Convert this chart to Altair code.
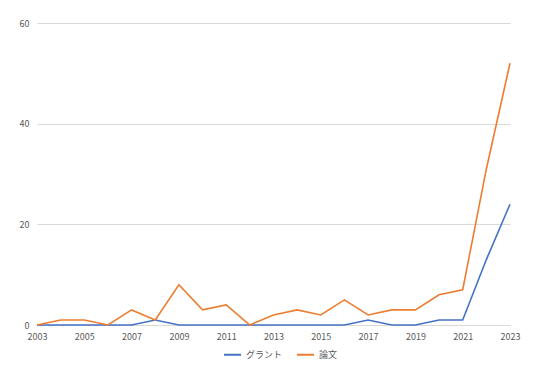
import altair as alt
import pandas as pd

years = list(range(2003, 2024))
grant = [0, 0, 0, 0, 0, 1, 0, 0, 0, 0, 0, 0, 0, 0, 1, 0, 0, 1, 1, 13, 24]
papers = [0, 1, 1, 0, 3, 1, 8, 3, 4, 0, 2, 3, 2, 5, 2, 3, 3, 6, 7, 31, 52]
series_names = ["グラント", "論文"]
colors = ["#4472C4", "#ED7D31"]
x_ticks = list(range(2003, 2024, 2))
y_ticks = [0, 20, 40, 60]

rows = []
for i, y in enumerate(years):
    rows.append({"year": y, "series": series_names[0], "value": grant[i]})
    rows.append({"year": y, "series": series_names[1], "value": papers[i]})
df = pd.DataFrame(rows)

font = "Noto Sans CJK JP"
text_color = "#595959"

chart = alt.Chart(df).mark_line(strokeWidth=1.6).encode(
    x=alt.X("year:Q", scale=alt.Scale(domain=[2003, 2023], nice=False, zero=False),
            axis=alt.Axis(values=x_ticks, format="d", title=None, grid=False, ticks=False,
                          domain=False, labelPadding=7, labelFontSize=9, labelFlush=False,
                          labelColor=text_color, labelFont=font)),
    y=alt.Y("value:Q", scale=alt.Scale(domain=[0, 60], nice=False),
            axis=alt.Axis(values=y_ticks, title=None, ticks=False, domain=False,
                          labelPadding=8, labelFontSize=9, labelColor=text_color,
                          labelFont=font, gridColor="#d9d9d9", gridWidth=1)),
    color=alt.Color("series:N", scale=alt.Scale(domain=series_names, range=colors),
                    legend=alt.Legend(title=None, orient="none", direction="horizontal",
                                      legendX=186, legendY=322, symbolType="stroke",
                                      symbolSize=289, symbolStrokeWidth=2,
                                      labelFontSize=9, labelColor=text_color,
                                      labelFont=font, columnPadding=10)),
).properties(
    width=473, height=302,
    autosize=alt.AutoSizeParams(type="none"),
    padding={"left": 29, "top": 15, "right": 18, "bottom": 41},
    background="white",
).configure_view(stroke=None)

chart.save("out.html", embed_options={"renderer": "svg", "actions": False})
